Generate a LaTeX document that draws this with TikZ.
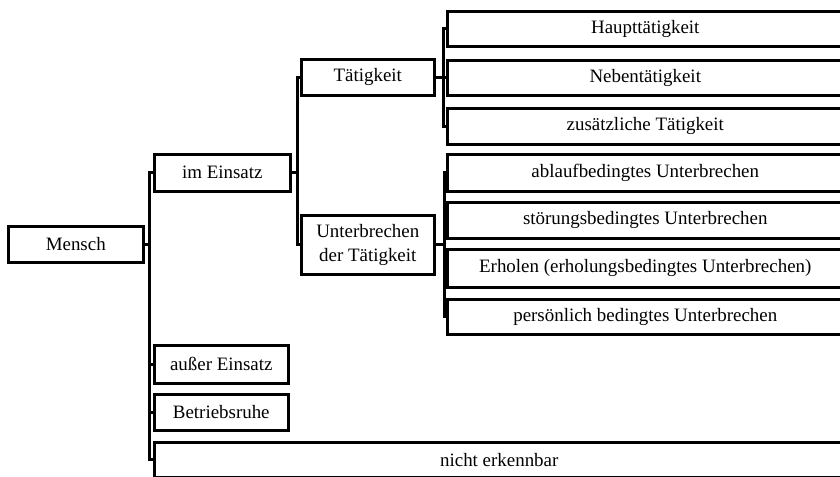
\documentclass[tikz,border=0pt]{standalone}
\usepackage{fontspec}
\setmainfont{Liberation Serif}
\def\px{0.75pt}
\tikzset{
  box/.style={draw, line width=1.9pt, inner sep=0pt, anchor=north west,
    align=center, font=\fontsize{14.2}{18}\selectfont},
  link/.style={line width=1.9pt, line join=miter},
}
\begin{document}
\begin{tikzpicture}[x=0.75pt, y=-0.75pt]
\useasboundingbox (0,0) rectangle (840,477);

% first level
\node[box, minimum width=135*\px, minimum height=36*\px] (mensch) at (7,225) {Mensch};

% second level
\node[box, minimum width=136*\px, minimum height=37*\px] (einsatz) at (153,153) {im Einsatz};
\node[box, minimum width=134*\px, minimum height=38*\px] (ausser) at (153,344) {außer Einsatz};
\node[box, minimum width=134*\px, minimum height=36*\px] (ruhe) at (153,393) {Betriebsruhe};
\node[box, minimum width=690*\px, minimum height=35*\px] (nicht) at (153,441) {nicht erkennbar};

% third level
\node[box, minimum width=133*\px, minimum height=36*\px] (taet) at (300,58) {Tätigkeit};
\node[box, minimum width=133*\px, minimum height=59*\px] (unter) at (300,214) {Unterbrechen\\der Tätigkeit};

% fourth level: activities
\node[box, minimum width=396*\px, minimum height=35*\px] (haupt) at (446,10) {Haupttätigkeit};
\node[box, minimum width=396*\px, minimum height=35*\px] (neben) at (446,59) {Nebentätigkeit};
\node[box, minimum width=396*\px, minimum height=36*\px] (zusatz) at (446,107) {zusätzliche Tätigkeit};

% fourth level: interruptions
\node[box, minimum width=396*\px, minimum height=37*\px] (ablauf) at (446,153) {ablaufbedingtes Unterbrechen};
\node[box, minimum width=396*\px, minimum height=36*\px] (stoer) at (446,201) {störungsbedingtes Unterbrechen};
\node[box, minimum width=396*\px, minimum height=38*\px] (erhol) at (446,248) {Erholen (erholungsbedingtes Unterbrechen)};
\node[box, minimum width=396*\px, minimum height=35*\px] (pers) at (446,298) {persönlich bedingtes Unterbrechen};

% brackets
\foreach \c in {einsatz, ausser, ruhe, nicht}
  \draw[link] (mensch.east) -- ++(5,0) |- (\c.west);
\foreach \c in {taet, unter}
  \draw[link] (einsatz.east) -- ++(6,0) |- (\c.west);
\foreach \c in {haupt, neben, zusatz}
  \draw[link] (taet.east) -- ++(8,0) |- (\c.west);
\foreach \c in {ablauf, stoer, erhol, pers}
  \draw[link] (unter.east) -- ++(9,0) |- (\c.west);
\end{tikzpicture}
\end{document}
